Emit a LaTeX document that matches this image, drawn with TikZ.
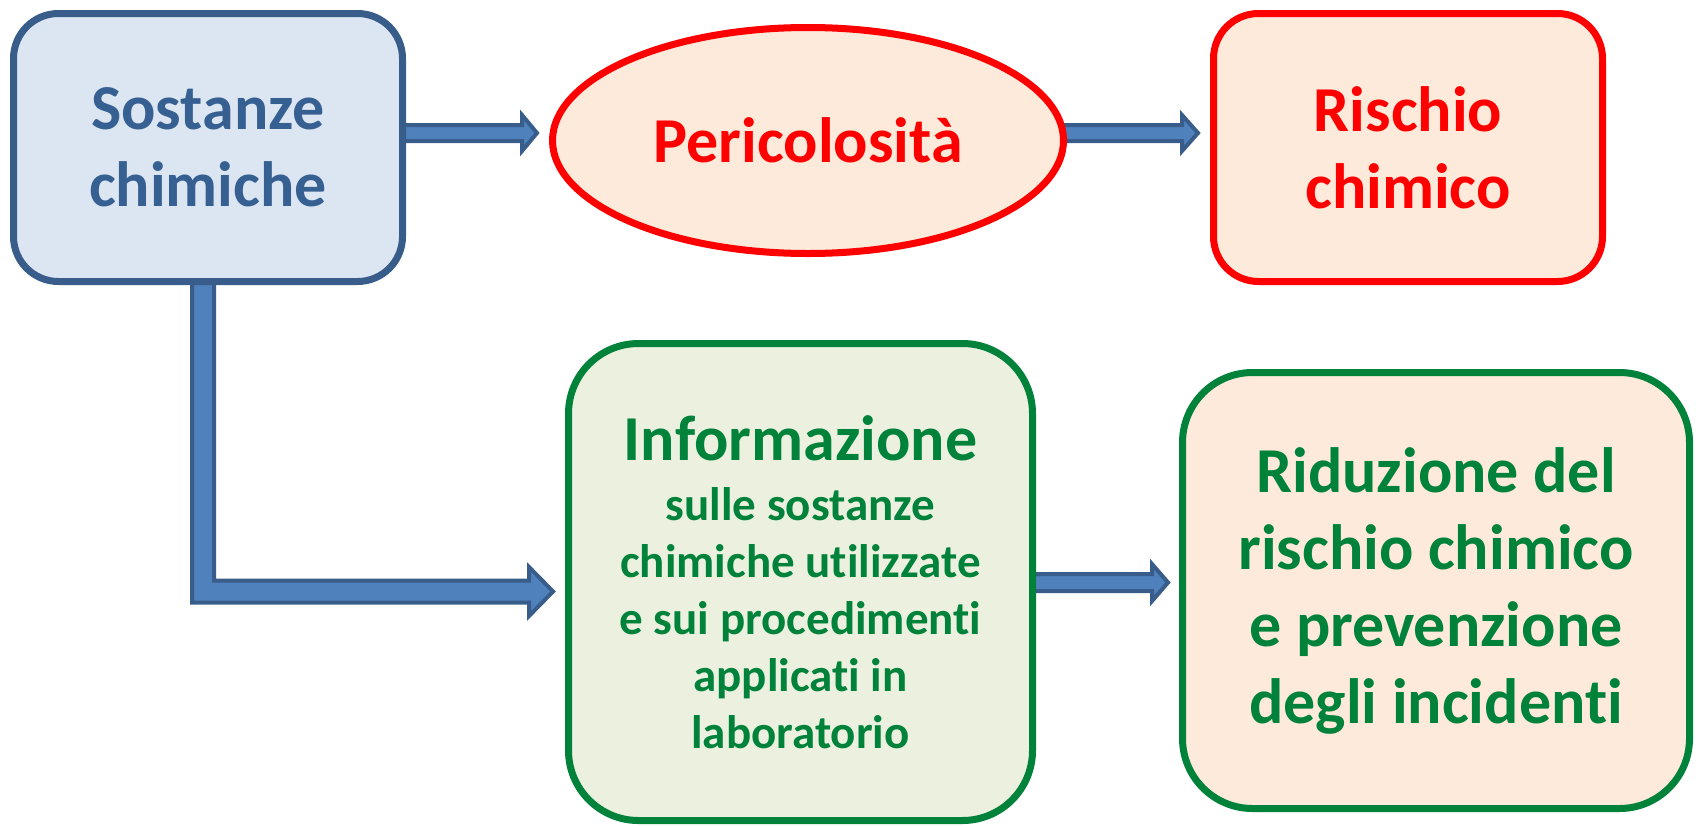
\documentclass[tikz,border=0pt]{standalone}
\usepackage{fontspec}
\setmainfont{Carlito}[Ligatures={NoCommon,NoContextual}]
\usetikzlibrary{calc,backgrounds,shapes.geometric}
\definecolor{bluefill}{HTML}{DCE6F2}
\definecolor{blueline}{HTML}{385D8A}
\definecolor{bluetext}{HTML}{376092}
\definecolor{peach}{HTML}{FDEADA}
\definecolor{greenfill}{HTML}{EBF1DE}
\definecolor{greenline}{RGB}{0,130,59}
\definecolor{arrowfill}{HTML}{4F81BD}
\definecolor{redc}{RGB}{255,0,0}
\newcommand\hblock[5]{\draw[blockarrow] ($(#1)+(0,-#3)$) -- ($(#2)+(-#5,-#3)$) -- ($(#2)+(-#5,-#4)$) -- (#2) -- ($(#2)+(-#5,#4)$) -- ($(#2)+(-#5,#3)$) -- ($(#1)+(0,#3)$) -- cycle;}
\begin{document}
\begin{tikzpicture}[x=1pt,y=-1pt,
  box/.style={rectangle, rounded corners=#1, line width=7pt, inner sep=0pt, align=center},
  bigfont/.style={font=\bfseries\fontsize{64}{77}\selectfont},
  blockarrow/.style={fill=arrowfill, draw=blueline, line width=4pt, line join=miter}
]
\useasboundingbox (0,0) rectangle (1696,825);

\node[box=45pt, bigfont, fill=bluefill, draw=blueline, text=bluetext,
      minimum width=389pt, minimum height=268pt] (s) at (208,147.5) {Sostanze\\chimiche};
\node[ellipse, bigfont, draw=redc, fill=peach, text=redc, line width=7pt, inner sep=0pt,
      minimum width=511pt, minimum height=226pt] (p) at (808,140.5) {Pericolosità};
\node[box=45pt, bigfont, fill=peach, draw=redc, text=redc,
      minimum width=389pt, minimum height=268pt] (r) at (1408,147.5) {Rischio\\chimico};
\node[box=70pt, fill=greenfill, draw=greenline, text=greenline,
      font=\bfseries\fontsize{47}{57}\selectfont,
      minimum width=464pt, minimum height=477pt] (i) at (800.5,582)
      {{\fontsize{64}{77}\selectfont Informazione}\\[3pt]sulle sostanze\\chimiche utilizzate\\e sui procedimenti\\applicati in\\laboratorio};
\node[box=70pt, bigfont, fill=peach, draw=greenline, text=greenline,
      minimum width=507pt, minimum height=436pt] (d) at (1436,590.5)
      {Riduzione del\\rischio chimico\\e prevenzione\\degli incidenti};

\begin{scope}[on background layer]
  \coordinate (a1s) at ($(s.east)+(-5,-14.5)$);
  \coordinate (a1t) at ($(p.west)+(-12,-7.5)$);
  \hblock{a1s}{a1t}{8}{18}{15}
  \coordinate (a2s) at ($(p.east)+(-6,-7.5)$);
  \coordinate (a2t) at ($(r.west)+(-12,-14.5)$);
  \hblock{a2s}{a2t}{8}{18}{16}
  \coordinate (a4s) at ($(i.east)+(-5,0.5)$);
  \coordinate (a4t) at ($(d.west)+(-11,-8)$);
  \hblock{a4s}{a4t}{8.5}{18.5}{16}
  \coordinate (ls) at ($(s.south)+(-5,-5)$);
  \coordinate (lt) at ($(i.west)+(-12,9.5)$);
  \coordinate (lc) at (ls |- lt);
  \draw[blockarrow] ($(ls)+(-11,0)$) -- ($(lc)+(-11,11)$) -- ($(lt)+(-24,11)$) -- ($(lt)+(-24,24.5)$) -- (lt) -- ($(lt)+(-24,-24.5)$) -- ($(lt)+(-24,-11)$) -- ($(lc)+(11,-11)$) -- ($(ls)+(11,0)$) -- cycle;
\end{scope}
\end{tikzpicture}
\end{document}
